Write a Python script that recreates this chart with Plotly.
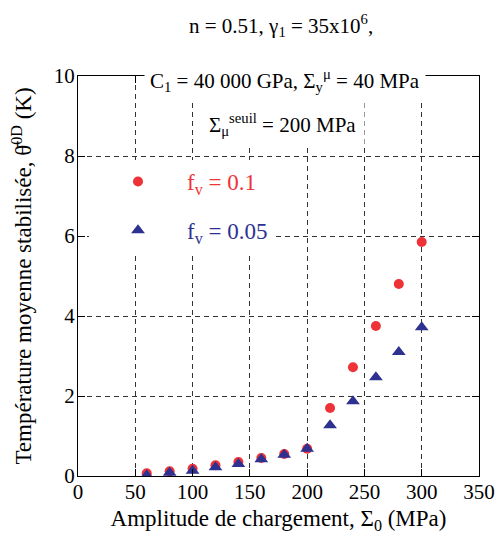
import plotly.graph_objects as go

# Data
amplitude = [60, 80, 100, 120, 140, 160, 180, 200, 220, 240, 260, 280, 300]
theta_fv01 = [0.07, 0.12, 0.18, 0.27, 0.35, 0.45, 0.55, 0.68, 1.70, 2.72, 3.75, 4.80, 5.85]
theta_fv005 = [0.02, 0.08, 0.13, 0.22, 0.30, 0.42, 0.53, 0.68, 1.27, 1.87, 2.47, 3.10, 3.72]

x_ticks = [0, 50, 100, 150, 200, 250, 300, 350]
y_ticks = [0, 2, 4, 6, 8, 10]

RED = "#ee3338"
BLUE = "#2e3190"
FONT = "Liberation Serif"

fig = go.Figure()
fig.add_trace(go.Scatter(
    x=amplitude, y=theta_fv01, mode="markers",
    marker=dict(symbol="circle", size=10, color=RED),
    name="<span style='color:%s'>f<sub>v</sub> = 0.1</span>" % RED,
    legendgroup="a",
))
fig.add_trace(go.Scatter(
    x=amplitude, y=theta_fv005, mode="markers",
    marker=dict(symbol="triangle-up", size=12, color=BLUE),
    name="<span style='color:%s'>f<sub>v</sub> = 0.05</span>" % BLUE,
    legendgroup="b",
))

axis_common = dict(
    showline=True, linecolor="black", linewidth=1, mirror="ticks",
    ticks="inside", ticklen=7, tickcolor="black",
    showgrid=True, gridcolor="#333333", gridwidth=1, griddash="5px,4px",
    zeroline=False,
    tickfont=dict(family=FONT, size=21, color="black"),
)

fig.update_xaxes(
    range=[0, 350], tickvals=x_ticks, ticktext=[str(v) for v in x_ticks],
    title=dict(text="Amplitude de chargement, Σ<sub>0</sub> (MPa)",
               font=dict(family=FONT, size=23, color="black"), standoff=6),
    automargin=False, ticklabelstandoff=-3,
    **axis_common,
)
fig.update_yaxes(
    range=[0, 10], tickvals=y_ticks, ticktext=[str(v) for v in y_ticks],
    title=dict(text="Température moyenne stabilisée, θ\u0304<sup>0D</sup> (K)",
               font=dict(family=FONT, size=23, color="black"), standoff=15),
    automargin=False, ticklabelstandoff=-2,
    **axis_common,
)

ann_font = dict(family=FONT, size=21, color="black")
fig.add_annotation(
    text="n = 0.51, γ<sub>1</sub> = 35x10<sup>6</sup>,",
    xref="paper", yref="paper", x=(281 - 78) / 401.0, y=1.0 + (76 - 25) / 400.0,
    xanchor="center", yanchor="middle", showarrow=False, font=ann_font,
    bgcolor="white", borderpad=2,
)
fig.add_annotation(
    text="C<sub>1</sub> = 40 000 GPa, Σ<sub>y</sub><sup>μ</sup> = 40 MPa",
    xref="paper", yref="paper", x=(285 - 78) / 401.0, y=1.0 - (80 - 76) / 400.0,
    xanchor="center", yanchor="middle", showarrow=False, font=ann_font,
    bgcolor="white", borderpad=5,
)
fig.add_annotation(
    text="Σ<sub>μ</sub><sup>seuil</sup> = 200 MPa",
    xref="paper", yref="paper", x=(282 - 78) / 401.0, y=1.0 - (124 - 76) / 400.0,
    xanchor="center", yanchor="middle", showarrow=False, font=ann_font,
    bgcolor="white", borderpad=8,
)

fig.update_layout(
    width=497, height=541,
    margin=dict(l=78, r=18, t=76, b=65),
    paper_bgcolor="white", plot_bgcolor="white",
    font=dict(family=FONT, size=21, color="black"),
    showlegend=True,
    legend=dict(
        x=(89 - 78) / 401.0, y=(476 - 160) / 400.0, xanchor="left", yanchor="top",
        bgcolor="white", borderwidth=0, itemwidth=88, tracegroupgap=16,
        font=dict(family=FONT, size=23),
    ),
)

fig.write_html("out.html", config={"displayModeBar": False},
               post_script="document.body.style.margin='0';")
